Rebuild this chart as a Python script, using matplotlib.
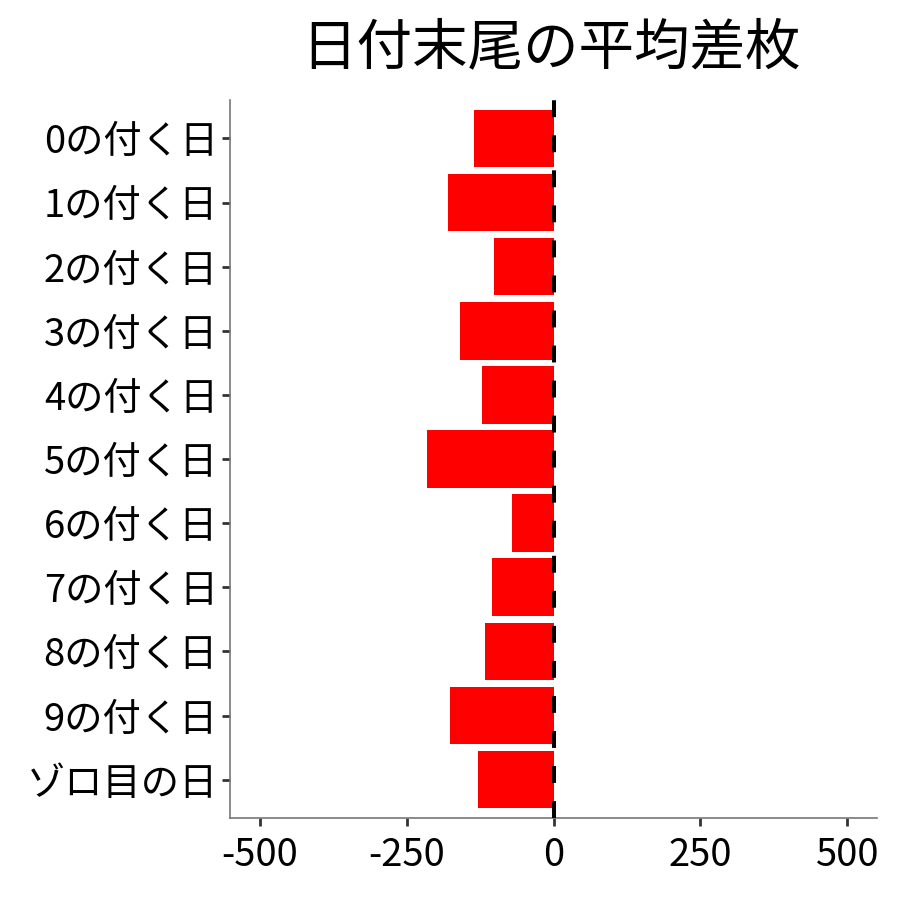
import matplotlib
matplotlib.use("Agg")
import matplotlib.pyplot as plt

plt.rcParams['font.family'] = ['Noto Sans CJK JP', 'DejaVu Sans']

# 日付末尾ごとの平均差枚
labels = ["0の付く日", "1の付く日", "2の付く日", "3の付く日", "4の付く日",
          "5の付く日", "6の付く日", "7の付く日", "8の付く日", "9の付く日",
          "ゾロ目の日"]
values = [-136, -180, -102, -160, -121, -216, -70, -105, -116, -177, -128]
xticks = [-500, -250, 0, 250, 500]

fig = plt.figure(figsize=(9, 9), dpi=100)
ax = fig.add_axes([0.256, 0.091, 0.718, 0.798])

pos = list(range(len(labels)))
ax.barh(pos, values, height=0.9, color="#ff0000", zorder=2)
ax.axvline(0, color="black", lw=2.9, dashes=(4.2, 4.5), zorder=3)

ax.set_xlim(-550, 550)
ax.set_ylim(len(labels) - 0.4, -0.6)
ax.set_yticks(pos)
ax.set_yticklabels(labels)
ax.set_xticks(xticks)
ax.set_xticklabels([str(t) for t in xticks])

for side in ["top", "right"]:
    ax.spines[side].set_visible(False)
for side in ["left", "bottom"]:
    ax.spines[side].set_color("#777777")
    ax.spines[side].set_linewidth(1.2)
ax.tick_params(axis="both", colors="#333333", labelcolor="black",
               length=6, width=2, labelsize=27.5, pad=3)
ax.tick_params(axis="x", pad=7)

fig.suptitle("日付末尾の平均差枚", fontsize=40, x=0.612, y=0.978)

fig.savefig("out.png", dpi=100)
